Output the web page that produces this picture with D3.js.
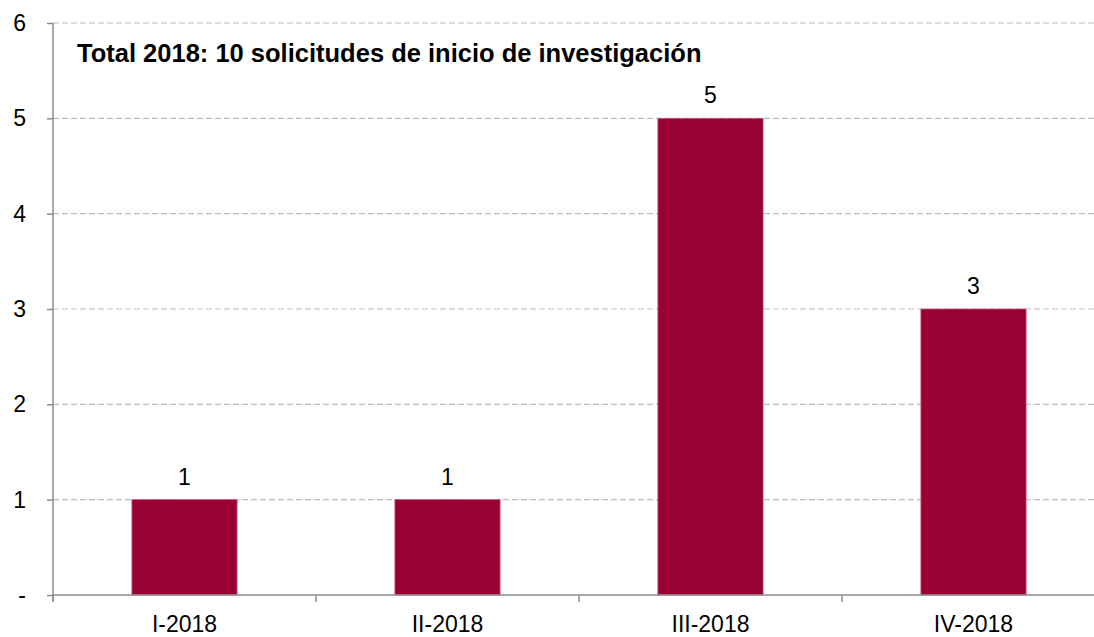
<!DOCTYPE html>
<html><head><meta charset="utf-8">
<script src="https://cdn.jsdelivr.net/npm/d3@7"></script>
<style>body{margin:0;background:#fff}svg{display:block}text{font-family:"Liberation Sans",Arial,sans-serif}</style>
</head><body>
<svg id="c" width="1094" height="637"></svg>
<script>
const categories = ["I-2018","II-2018","III-2018","IV-2018"];
const values = [1,1,5,3];
const yTicks = [0,1,2,3,4,5,6];
const yTickLabels = ["-","1","2","3","4","5","6"];
const title = "Total 2018: 10 solicitudes de inicio de investigación";

const svg = d3.select("#c");
const x0 = 53, x1 = 1105, yTop = 23, yBot = 595;
const x = d3.scaleBand().domain(categories).range([x0, x1]).paddingInner(0.6).paddingOuter(0.3);
const y = d3.scaleLinear().domain([0,6]).range([yBot, yTop]);

// gridlines
svg.append("g").selectAll("line").data(yTicks.filter(d=>d>0)).join("line")
  .attr("x1", x0).attr("x2", 1094).attr("y1", d=>y(d)).attr("y2", d=>y(d))
  .attr("stroke", "#bdbdbd").attr("stroke-width", 1.2).attr("stroke-dasharray", "6,3");

// bars
svg.append("g").selectAll("rect").data(values).join("rect")
  .attr("x", (d,i)=>x(categories[i])).attr("width", x.bandwidth())
  .attr("y", d=>y(d)).attr("height", d=>yBot - y(d))
  .attr("fill", "#990033").attr("stroke", "#c45a7c").attr("stroke-width", 0.8);

// y axis
const yAxis = d3.axisLeft(y).tickValues(yTicks).tickFormat((d,i)=>yTickLabels[i]).tickSize(6).tickPadding(21);
const gy = svg.append("g").attr("transform", `translate(${x0},0)`).call(yAxis);
gy.select(".domain").attr("stroke", "#8c8c8c").attr("stroke-width", 1.5).attr("d", `M0,${yTop}V${yBot+6}`);
gy.selectAll(".tick line").attr("stroke", "#8c8c8c").attr("stroke-width", 1.5);
gy.selectAll(".tick text").attr("font-size", 23).attr("fill", "#000").attr("font-family", "'Liberation Sans',Arial,sans-serif");

// x axis
const gx = svg.append("g").attr("transform", `translate(0,${yBot})`);
gx.append("line").attr("x1", x0).attr("x2", 1094).attr("y1", 0).attr("y2", 0).attr("stroke", "#8c8c8c").attr("stroke-width", 1.5);
const step = x.step();
gx.selectAll(".bt").data(categories.map((c,i)=>i)).join("line").attr("class","bt")
  .attr("x1", i=>x(categories[i]) - (step - x.bandwidth())/2).attr("x2", i=>x(categories[i]) - (step - x.bandwidth())/2)
  .attr("y1", 0).attr("y2", 7).attr("stroke", "#8c8c8c").attr("stroke-width", 1.5);
gx.selectAll(".lbl").data(categories).join("text").attr("class","lbl")
  .attr("x", d=>x(d)+x.bandwidth()/2).attr("y", 37).attr("text-anchor","middle")
  .attr("font-size", 23).attr("fill","#000").text(d=>d);

// value labels
svg.append("g").selectAll("text").data(values).join("text")
  .attr("x", (d,i)=>x(categories[i])+x.bandwidth()/2).attr("y", d=>y(d)-15)
  .attr("text-anchor","middle").attr("font-size", 23).attr("fill","#000").text(d=>d);

// title
svg.append("text").attr("x", 77).attr("y", 62).attr("font-size", 25.5).attr("font-weight","bold").attr("fill","#000").text(title);
</script>
</body></html>
